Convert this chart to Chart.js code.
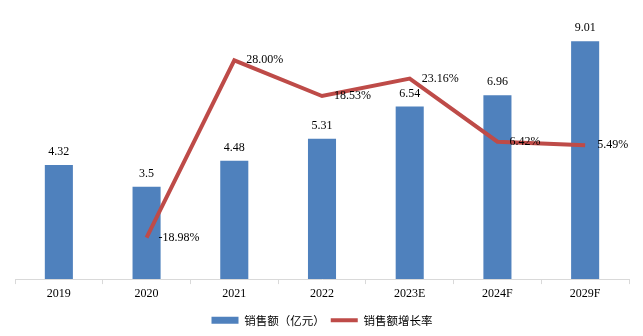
<!DOCTYPE html>
<html>
<head>
<meta charset="utf-8">
<script src="https://cdn.jsdelivr.net/npm/chart.js@4/dist/chart.umd.min.js"></script>
<style>
  html, body { margin: 0; padding: 0; background: #ffffff; }
  #wrap { width: 643px; height: 336px; }
</style>
</head>
<body>
<div id="wrap"><canvas id="c" width="643" height="336"></canvas></div>
<script>
// Categories and series
const years = ['2019', '2020', '2021', '2022', '2023E', '2024F', '2029F'];
const sales = [4.32, 3.5, 4.48, 5.31, 6.54, 6.96, 9.01];           // 销售额（亿元）
const growth = [null, -18.98, 28.00, 18.53, 23.16, 6.42, 5.49];      // 销售额增长率 (%)
const salesLabel = '销售额（亿元）';
const growthLabel = '销售额增长率';

const BAR_COLOR = '#4F81BD';
const LINE_COLOR = '#BE4B48';
const SERIF = '"Liberation Serif", "Times New Roman", serif';

// Draws value labels: above each bar, to the right of each line point
const valueLabels = {
  id: 'valueLabels',
  afterDatasetsDraw(chart) {
    const ctx = chart.ctx;
    ctx.save();
    ctx.font = '12px ' + SERIF;
    ctx.fillStyle = '#000000';
    chart.data.datasets.forEach((ds, di) => {
      const meta = chart.getDatasetMeta(di);
      meta.data.forEach((el, i) => {
        const v = ds.data[i];
        if (v === null || v === undefined) return;
        if (ds.type === 'bar') {
          ctx.textAlign = 'center';
          ctx.textBaseline = 'bottom';
          ctx.fillText(String(v), el.x, el.y - 7);
        } else {
          ctx.textAlign = 'left';
          ctx.textBaseline = 'middle';
          ctx.fillText(v.toFixed(2) + '%', el.x + 12, el.y);
        }
      });
    });
    ctx.restore();
  }
};

new Chart(document.getElementById('c'), {
  data: {
    labels: years,
    datasets: [
      {
        type: 'line',
        label: growthLabel,
        data: growth,
        yAxisID: 'y2',
        borderColor: LINE_COLOR,
        backgroundColor: LINE_COLOR,
        borderWidth: 4,
        pointRadius: 0,
        tension: 0,
        order: 0
      },
      {
        type: 'bar',
        label: salesLabel,
        data: sales,
        yAxisID: 'y',
        backgroundColor: BAR_COLOR,
        borderWidth: 0,
        categoryPercentage: 1,
        barPercentage: 0.32,
        order: 1
      }
    ]
  },
  options: {
    responsive: false,
    animation: false,
    layout: { padding: { left: 15, right: 14, top: 15, bottom: 0 } },
    scales: {
      x: {
        offset: true,
        grid: {
          display: true,
          drawOnChartArea: false,
          drawTicks: true,
          tickLength: 5,
          color: '#D9D9D9',
          offset: true
        },
        border: { display: true, color: '#D9D9D9', width: 1 },
        ticks: {
          color: '#000000',
          font: { family: SERIF, size: 12 },
          padding: 3
        },
        // extra room between the year labels and the legend
        afterFit(scale) { scale.height += 4; }
      },
      y: {
        display: false,
        min: 0,
        max: 10
      },
      y2: {
        display: false,
        position: 'right',
        min: -30,
        max: 40
      }
    },
    plugins: {
      tooltip: { enabled: false },
      legend: {
        display: true,
        position: 'bottom',
        labels: {
          usePointStyle: true,
          pointStyleWidth: 27,
          boxHeight: 7,
          padding: 6,
          color: '#000000',
          font: { family: '"Noto Sans CJK SC", sans-serif', size: 11.5 },
          generateLabels() {
            return [
              { text: salesLabel, fillStyle: BAR_COLOR, strokeStyle: BAR_COLOR, lineWidth: 0, pointStyle: 'rect', datasetIndex: 1 },
              { text: growthLabel, fillStyle: LINE_COLOR, strokeStyle: LINE_COLOR, lineWidth: 4, pointStyle: 'line', datasetIndex: 0 }
            ];
          }
        }
      }
    }
  },
  plugins: [valueLabels]
});
</script>
</body>
</html>
